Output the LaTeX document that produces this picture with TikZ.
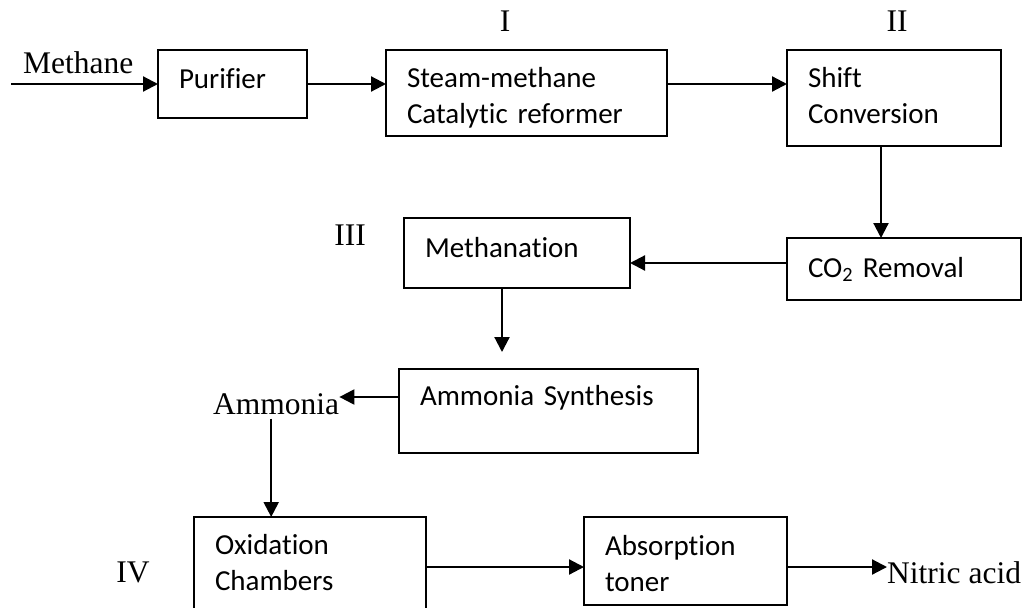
\documentclass[tikz,border=0pt]{standalone}
\usepackage{fontspec}
\setmainfont{Liberation Serif}
\newfontfamily\boxfont[Ligatures=NoCommon]{Carlito}
\usetikzlibrary{arrows.meta}

\begin{document}
\begin{tikzpicture}[x=1pt,y=-1pt,
	box/.style={draw, line width=2.2pt, anchor=north west, outer sep=0pt,
		align=left, inner xsep=21pt, inner ysep=0pt,
		font=\boxfont\fontsize{29}{36}\selectfont},
	flow/.style={line width=2.2pt, -{Triangle[length=15pt,width=15pt]}},
	lab/.style={inner sep=0pt, font=\fontsize{31.5}{36}\selectfont}]
	\useasboundingbox (0,0) rectangle (1024,607);

	\node (P) [box, text width=107pt, text height=39pt, text depth=29pt] at (158,50) {Purifier};
	\node (R) [box, text width=239pt, text height=38pt, text depth=48pt] at (386,50) {Steam-methane\\Catalytic reformer};
	\node (S) [box, text width=172pt, text height=38pt, text depth=58pt] at (787,50) {Shift\\Conversion};
	\node (C) [box, text width=192pt, text height=39pt, text depth=23pt] at (787,238) {CO\textsubscript{2} Removal};
	\node (M) [box, text width=184pt, text height=39pt, text depth=31pt] at (404,218) {Methanation};
	\node (A) [box, text width=257pt, text height=36pt, text depth=48pt] at (399,369) {Ammonia Synthesis};
	\node (O) [box, text width=190pt, text height=37pt, text depth=56pt] at (194,517) {Oxidation\\Chambers};
	\node (T) [box, text width=161pt, text height=38pt, text depth=50pt] at (584,517) {Absorption\\toner};

	\node (in) [lab, anchor=base west] at (23,74) {Methane};
	\node (N) [lab, anchor=base west] at (213,414) {Ammonia};
	\node (H) [lab, anchor=base west] at (887,583) {Nitric acid};
	\node (r1) [lab, anchor=base] at (505,32) {I};
	\node (r2) [lab, anchor=base] at (897,32) {II};
	\node (r3) [lab, anchor=base] at (350,245) {III};
	\node (r4) [lab, anchor=base] at (133,582) {IV};

	\coordinate (feed) at (11,84);
	\draw [flow] (feed) -- (P.west);
	\draw [flow] (P.east) -- (P.east -| R.west);
	\draw [flow] (R.east |- P.east) -- (S.west |- P.east);
	\draw [flow] ([xshift=-13pt]S.south) -- ([xshift=-13pt]S.south |- C.north);
	\draw [flow] ([yshift=6pt]C.west) -- ([yshift=6pt]C.west -| M.east);
	\draw [flow] ([xshift=-15pt]M.south) -- ++(0,64);
	\draw [flow] ([yshift=14pt]A.west) -- ([yshift=14pt]A.west -| N.east);
	\draw [flow] ([xshift=-5pt,yshift=-4pt]N.south) -- ([xshift=-5pt]N.south |- O.north);
	\draw [flow] ([yshift=-6pt]T.west -| O.east) -- ([yshift=-6pt]T.west);
	\draw [flow] ([yshift=-6pt]T.east) -- ([yshift=-6pt]T.east -| H.west);

\end{tikzpicture}
\end{document}
